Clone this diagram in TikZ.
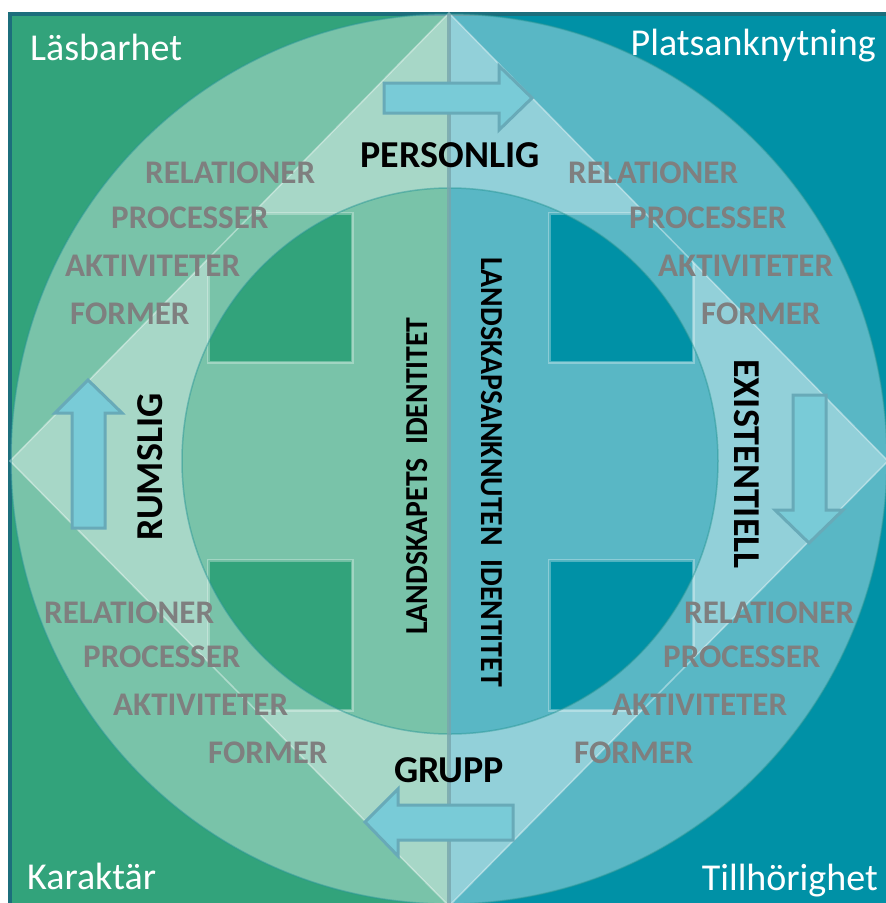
\documentclass[tikz,border=0pt]{standalone}
\usepackage{fontspec}
\setmainfont{Carlito}
\definecolor{bggreen}{RGB}{50,163,123}
\definecolor{bgteal}{RGB}{0,145,166}
\definecolor{framec}{RGB}{28,110,124}
\definecolor{arrowfill}{RGB}{121,203,215}
\definecolor{arrowline}{RGB}{104,170,184}
\definecolor{listgray}{RGB}{127,127,127}
\definecolor{divc}{RGB}{120,165,172}
\definecolor{edgec}{RGB}{40,150,150}
\tikzset{
 corner/.style={text=white, font=\fontsize{38}{45}\selectfont, inner sep=0pt},
 axislbl/.style={font=\bfseries\fontsize{38}{46}\selectfont, inner sep=0pt, anchor=base},
 ident/.style={font=\bfseries\fontsize{32}{38}\selectfont, inner sep=0pt, anchor=base},
 item/.style={text=listgray, font=\bfseries\fontsize{33}{39}\selectfont, inner sep=0pt, anchor=base west},
 blockarrow/.style={fill=arrowfill, draw=arrowline, line width=3pt, line join=miter},
 tint/.style={fill=white, fill opacity=0.35},
}
\begin{document}
\begin{tikzpicture}[x=1pt,y=-1pt]
\clip (0,0) rectangle (886,903);
\fill[white] (0,0) rectangle (886,903);
\fill[bggreen] (10,14) rectangle (449,903);
\fill[bgteal] (449,14) rectangle (886,903);
\draw[framec, line width=3.5pt] (10,14) rectangle (910,920);
% ring
\fill[tint, even odd rule] (449,459) ellipse [x radius=438pt, y radius=445pt]
  (450,461) ellipse [x radius=268pt, y radius=273pt];
% diamond with four square holes
\begin{scope}
\clip (449,13) -- (10,461) -- (449,906) -- (888,461) -- cycle;
\fill[tint, even odd rule] (0,0) rectangle (886,903)
  (208,213) rectangle (352,362) (549,213) rectangle (693,362)
  (208,560) rectangle (352,710) (549,560) rectangle (693,710);
\draw[white, opacity=.3, line width=3pt]
  (208,213) rectangle (352,362) (549,213) rectangle (693,362)
  (208,560) rectangle (352,710) (549,560) rectangle (693,710);
\end{scope}
\draw[white, opacity=.4, line width=1.5pt] (449,13) -- (10,461) -- (449,906) -- (888,461) -- cycle;
\draw[edgec, opacity=.5, line width=1.5pt] (449,459) ellipse [x radius=438pt, y radius=445pt];
\draw[edgec, opacity=.5, line width=1.5pt] (450,461) ellipse [x radius=268pt, y radius=273pt];
% divider
\draw[divc, opacity=.8, line width=4pt] (449,14) -- (449,903);
% arrows
\draw[blockarrow] (384,83) -- (499,83) -- (499,66) -- (532,98) -- (499,130) -- (499,113) -- (384,113) -- cycle;
\draw[blockarrow] (72,528) -- (72,413) -- (55,413) -- (88,380) -- (122,413) -- (105,413) -- (105,528) -- cycle;
\draw[blockarrow] (793,395) -- (826,395) -- (826,510) -- (843,510) -- (809,543) -- (775,510) -- (793,510) -- cycle;
\draw[blockarrow] (513,805) -- (398,805) -- (398,789) -- (365,822) -- (398,856) -- (398,840) -- (513,840) -- cycle;
% corner labels
\node[corner, anchor=base west] (lasb) at (30,60) {Läsbarhet};
\node[corner, anchor=base east] (plats) at (876,55) {Platsanknytning};
\node[corner, anchor=base west] (kar) at (27,889) {Karaktär};
\node[corner, anchor=base east] (till) at (878,890) {Tillhörighet};
% axis labels
\node[axislbl] (pers) at (450,167) {PERSONLIG};
\node[axislbl] (grupp) at (449,782) {GRUPP};
\node[axislbl, rotate=90] (rums) at (162,467) {RUMSLIG};
\node[axislbl, rotate=-90] (exist) at (734,464) {EXISTENTIELL};
\node[ident, rotate=90] (lid) at (427,476) {\scalebox{0.93}[1]{LANDSKAPETS\ \ IDENTITET}};
\node[ident, rotate=-90] (laid) at (481,472) {\scalebox{0.93}[1]{LANDSKAPSANKNUTEN\ \ IDENTITET}};
% lists top-left
\node[item] (tl1) at (145,183) {RELATIONER};
\node[item] (tl2) at (111,228) {PROCESSER};
\node[item] (tl3) at (65,276) {AKTIVITETER};
\node[item] (tl4) at (70,324) {FORMER};
% top-right
\node[item] (tr1) at (568,183) {RELATIONER};
\node[item] (tr2) at (629,228) {PROCESSER};
\node[item] (tr3) at (658,276) {AKTIVITETER};
\node[item] (tr4) at (701,324) {FORMER};
% bottom-left
\node[item] (bl1) at (44,623) {RELATIONER};
\node[item] (bl2) at (83,667) {PROCESSER};
\node[item] (bl3) at (113,715) {AKTIVITETER};
\node[item] (bl4) at (208,763) {FORMER};
% bottom-right
\node[item] (br1) at (684,623) {RELATIONER};
\node[item] (br2) at (663,667) {PROCESSER};
\node[item] (br3) at (612,715) {AKTIVITETER};
\node[item] (br4) at (574,763) {FORMER};
\end{tikzpicture}
\end{document}
